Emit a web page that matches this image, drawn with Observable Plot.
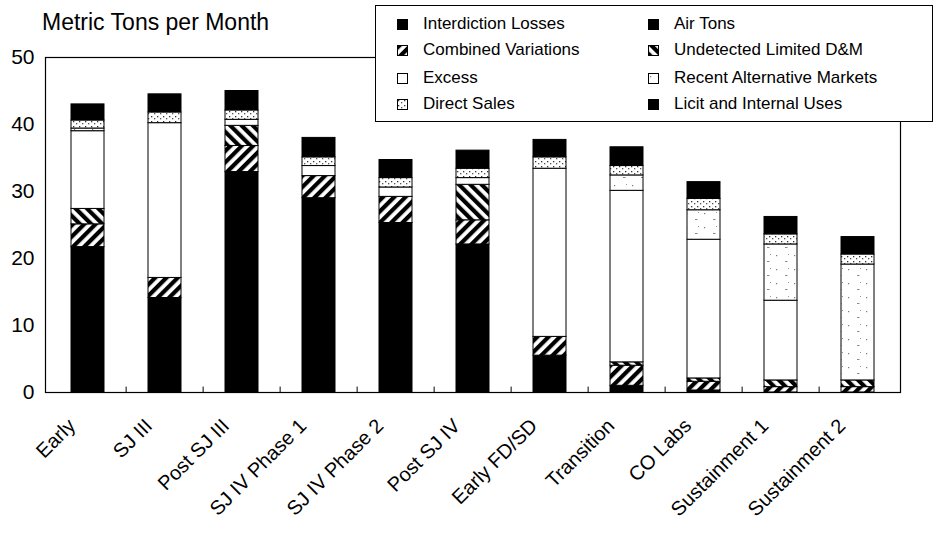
<!DOCTYPE html>
<html>
<head>
<meta charset="utf-8">
<script src="https://cdn.jsdelivr.net/npm/d3@7"></script>
<script src="https://cdn.jsdelivr.net/npm/@observablehq/plot@0.6"></script>
<style>
  html, body { margin: 0; padding: 0; background: #fff; }
  #wrap { position: relative; width: 936px; height: 533px; font-family: "Liberation Sans", Arial, sans-serif; }
  #title { position: absolute; left: 42px; top: 9px; font-size: 23px; color: #000; white-space: nowrap; }
  #legend { position: absolute; left: 375px; top: 5px; width: 556px; height: 115px; border: 1px solid #000; background: #fff; }
  .item { position: absolute; font-size: 17px; white-space: nowrap; display: flex; align-items: center; }
  .item svg { margin-right: 15px; }
</style>
</head>
<body>
<svg width="0" height="0" style="position:absolute">
  <defs>
    <pattern id="p-fwd" patternUnits="userSpaceOnUse" width="8" height="8" patternTransform="rotate(45)">
      <rect width="8" height="8" fill="#fff"/>
      <rect width="4.2" height="8" fill="#000"/>
    </pattern>
    <pattern id="p-back" patternUnits="userSpaceOnUse" width="8" height="8" patternTransform="rotate(-45)">
      <rect width="8" height="8" fill="#fff"/>
      <rect width="4.2" height="8" fill="#000"/>
    </pattern>
    <pattern id="p-dots" patternUnits="userSpaceOnUse" width="6" height="5">
      <rect width="6" height="5" fill="#fff"/>
      <rect x="1" y="1" width="1.3" height="1.3" fill="#333"/>
      <rect x="4" y="3" width="1.3" height="1.3" fill="#555"/>
    </pattern>
    <pattern id="p-sparse" patternUnits="userSpaceOnUse" width="18" height="14">
      <rect width="18" height="14" fill="#fff"/>
      <rect x="2" y="3" width="1.2" height="1.2" fill="#777"/>
      <rect x="11" y="9" width="2.5" height="1" fill="#888"/>
      <rect x="14" y="2" width="1" height="1" fill="#999"/>
    </pattern>
  </defs>
</svg>
<div id="wrap">
  <div id="chart"></div>
  <div id="title">Metric Tons per Month</div>
  <div id="legend"></div>
</div>
<script>
const categories = ["Early", "SJ III", "Post SJ III", "SJ IV Phase 1", "SJ IV Phase 2", "Post SJ IV", "Early FD/SD", "Transition", "CO Labs", "Sustainment 1", "Sustainment 2"];

const seriesNames = ["Interdiction Losses", "Air Tons", "Combined Variations", "Undetected Limited D&M", "Excess", "Recent Alternative Markets", "Direct Sales", "Licit and Internal Uses"];

const interdictionLosses = [21.7, 14.1, 32.9, 29.0, 25.3, 22.1, 5.5, 1.0, 0.3, 0, 0];
const airTons = [0, 0, 0, 0, 0, 0, 0, 0, 0, 0, 0];
const combinedVariations = [3.4, 3.0, 3.9, 3.3, 3.9, 3.6, 2.8, 3.0, 1.3, 0.8, 0.8];
const undetectedLimited = [2.3, 0, 3.0, 0, 0, 5.3, 0, 0.5, 0.5, 1.0, 1.0];
const excess = [11.6, 23.1, 0.9, 1.5, 1.4, 1.0, 25.1, 25.6, 20.7, 11.9, 0];
const recentAltMarkets = [0.4, 0, 0, 0, 0, 0, 0, 2.3, 4.4, 8.4, 17.3];
const directSales = [1.2, 1.6, 1.4, 1.3, 1.4, 1.4, 1.7, 1.4, 1.7, 1.5, 1.5];
const licitInternal = [2.4, 2.7, 2.9, 2.9, 2.7, 2.7, 2.6, 2.8, 2.5, 2.6, 2.6];

const yTicks = [0, 10, 20, 30, 40, 50];

const seriesValues = [interdictionLosses, airTons, combinedVariations, undetectedLimited, excess, recentAltMarkets, directSales, licitInternal];
const seriesFills = ["#000", "#000", "url(#p-fwd)", "url(#p-back)", "#fff", "url(#p-sparse)", "url(#p-dots)", "#000"];

const rows = [];
seriesNames.forEach((s, si) => {
  categories.forEach((c, ci) => {
    const v = seriesValues[si][ci];
    if (v > 0) rows.push({category: c, series: s, value: v});
  });
});

const W = 936, H = 533, ML = 45, MR = 36, MT = 57, MB = 141;
const step = (W - ML - MR) / categories.length;
const font = "'Liberation Sans', Arial, sans-serif";

const chart = Plot.plot({
  width: W,
  height: H,
  marginLeft: ML,
  marginRight: MR,
  marginTop: MT,
  marginBottom: MB,
  style: {fontFamily: font, background: "#fff", color: "#000"},
  x: {domain: categories, padding: 0, label: null},
  y: {domain: [0, 50], label: null},
  color: {domain: seriesNames, range: seriesFills},
  marks: [
    Plot.barY(rows, Plot.stackY({
      x: "category",
      y: "value",
      z: "series",
      fill: "series",
      stroke: "#000",
      strokeWidth: 1,
      insetLeft: 22,
      insetRight: 22
    })),
    Plot.ruleX(categories.slice(1), {x: d => d, dx: -step / 2, y1: 0, y2: 0.8, stroke: "#000"}),
    Plot.frame({stroke: "#000", strokeWidth: 1.2}),
    Plot.axisY({ticks: yTicks, tickSize: 0, tickPadding: 11, fontSize: 21, label: null}),
    Plot.axisX({tickSize: 0, tickRotate: -45, tickPadding: 30, dx: -16, fontSize: 20, label: null})
  ]
});
document.getElementById("chart").appendChild(chart);

// legend (row-wise order: left column, right column)
const legend = document.getElementById("legend");
const legendPos = [
  [21, 8], [272, 8],
  [21, 34], [272, 34],
  [21, 62], [272, 62],
  [21, 88], [272, 88]
];
seriesNames.forEach((s, i) => {
  const div = document.createElement("div");
  div.className = "item";
  div.style.left = legendPos[i][0] + "px";
  div.style.top = legendPos[i][1] + "px";
  const sw = document.createElementNS("http://www.w3.org/2000/svg", "svg");
  sw.setAttribute("width", 11);
  sw.setAttribute("height", 11);
  const r = document.createElementNS("http://www.w3.org/2000/svg", "rect");
  r.setAttribute("x", 0.5); r.setAttribute("y", 0.5);
  r.setAttribute("width", 10); r.setAttribute("height", 10);
  r.setAttribute("fill", seriesFills[i]);
  r.setAttribute("stroke", "#000");
  sw.appendChild(r);
  div.appendChild(sw);
  const t = document.createElement("span");
  t.textContent = s;
  div.appendChild(t);
  legend.appendChild(div);
});
</script>
</body>
</html>
